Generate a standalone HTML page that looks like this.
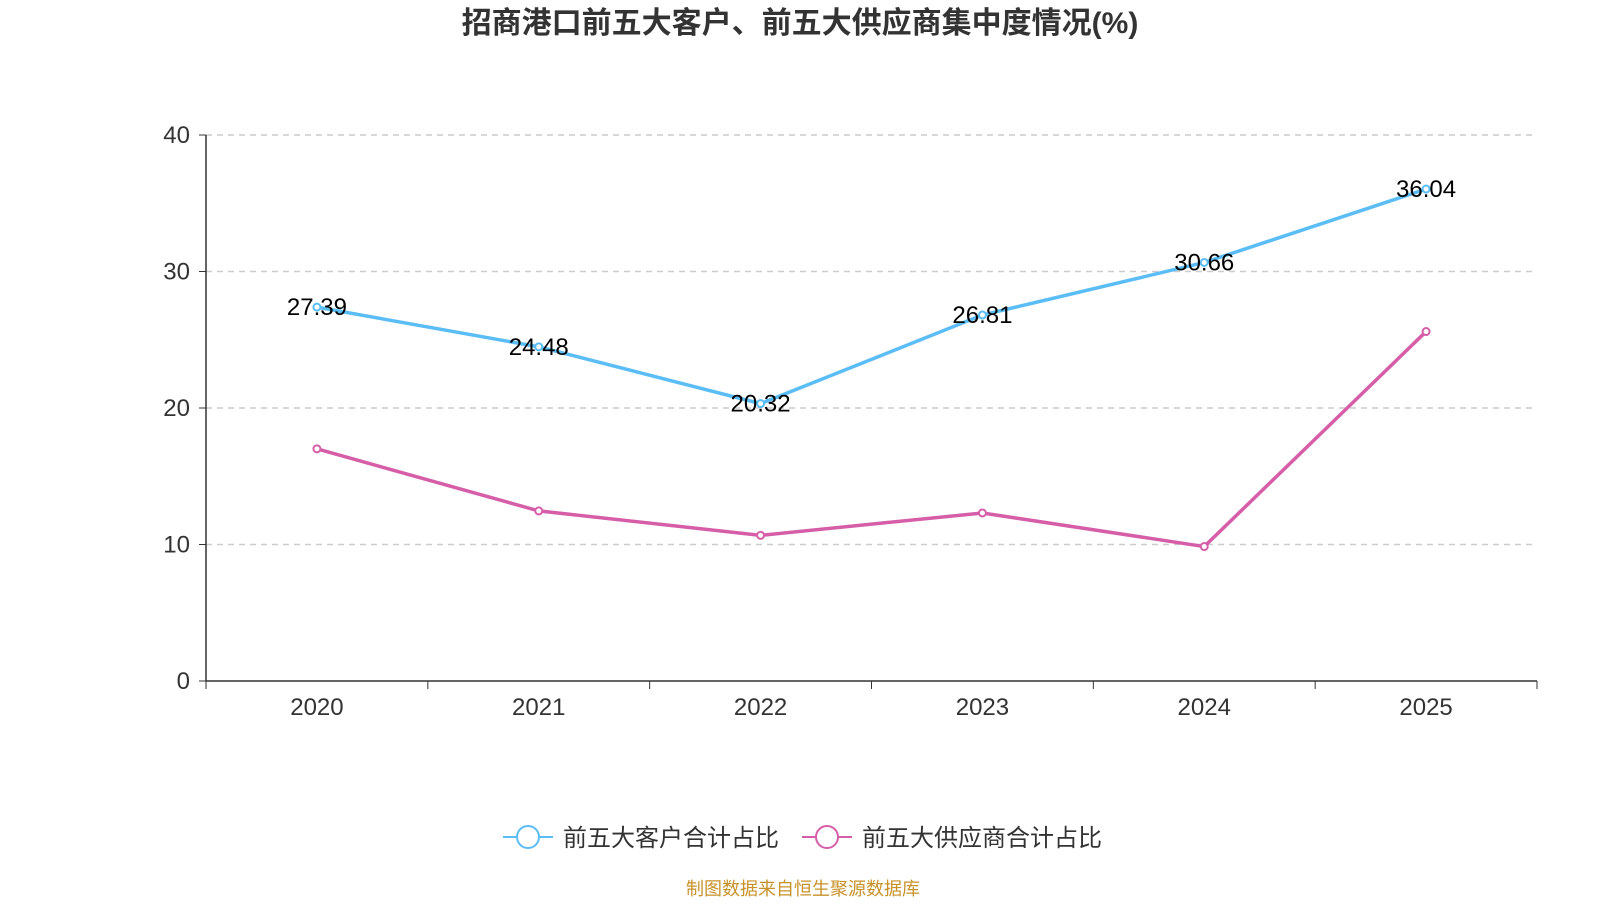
<!DOCTYPE html>
<html><head><meta charset="utf-8">
<style>
body{margin:0;background:#fff;width:1600px;height:900px;overflow:hidden;font-family:"Liberation Sans","Noto Sans CJK SC",sans-serif;}
</style></head>
<body>
<svg id="chart" width="1600" height="900" xmlns="http://www.w3.org/2000/svg" font-family="'Liberation Sans','Noto Sans CJK SC',sans-serif">
<text x="800" y="33" text-anchor="middle" font-size="30" font-weight="bold" fill="#333">招商港口前五大客户、前五大供应商集中度情况(%)</text>
<g id="grid"></g><g id="axes"></g><g id="series"></g>
<g>
<g>
<line x1="503" y1="837" x2="553" y2="837" stroke="#5bbdf5" stroke-width="2"/>
<circle cx="528" cy="837" r="11" fill="#fff" stroke="#5bbdf5" stroke-width="2"/>
<text x="563" y="846" font-size="24" fill="#333">前五大客户合计占比</text></g>
<g>
<line x1="802" y1="837" x2="852" y2="837" stroke="#d65ea8" stroke-width="2"/>
<circle cx="827" cy="837" r="11" fill="#fff" stroke="#d65ea8" stroke-width="2"/>
<text x="862" y="846" font-size="24" fill="#333">前五大供应商合计占比</text></g>
</g>
<text x="803" y="895" text-anchor="middle" font-size="18" fill="#c8922a">制图数据来自恒生聚源数据库</text>
</svg>
<script>
const categories=["2020","2021","2022","2023","2024","2025"];
const customerValues=[27.39,24.48,20.32,26.81,30.66,36.04];
const supplierValues=[17.01,12.46,10.67,12.31,9.85,25.6];
const yTicks=[0,10,20,30,40];
const NS="http://www.w3.org/2000/svg";
const L=206,R=1537,T=135,B=681,yMax=40;
const bw=(R-L)/categories.length;
const x=i=>L+bw*(i+0.5);
const y=v=>B-(v/yMax)*(B-T);
function mk(tag,attrs,parent){const e=document.createElementNS(NS,tag);for(const k in attrs)e.setAttribute(k,attrs[k]);parent.appendChild(e);return e;}
const grid=document.getElementById('grid'),axes=document.getElementById('axes'),series=document.getElementById('series');
yTicks.forEach(t=>{
 if(t>0){const g=mk('line',{x1:L,x2:R,y1:y(t),y2:y(t),stroke:'#ccc','stroke-dasharray':'6,5','stroke-width':1.5},grid);
 
 }
 mk('line',{x1:L-7,x2:L,y1:y(t),y2:y(t),stroke:'#333'},axes);
 const tx=mk('text',{x:L-16,y:y(t)+8,'text-anchor':'end','font-size':24,fill:'#333'},axes);tx.textContent=t;
 
 
});
const ya=mk('line',{x1:L,x2:L,y1:T,y2:B,stroke:'#333','stroke-width':1.5},axes);


const xa=mk('line',{x1:L,x2:R,y1:B,y2:B,stroke:'#333','stroke-width':1.5},axes);


for(let i=0;i<=categories.length;i++)mk('line',{x1:L+bw*i,x2:L+bw*i,y1:B,y2:B+8,stroke:'#333'},axes);
categories.forEach((c,i)=>{const t=mk('text',{x:x(i),y:B+34,'text-anchor':'middle','font-size':24,fill:'#333'},axes);t.textContent=c;
 
 });
function draw(vals,color,name,labels){
 const p=mk('polyline',{points:vals.map((v,i)=>x(i)+','+y(v)).join(' '),fill:'none',stroke:color,'stroke-width':3.5},series);
 
 
 vals.forEach((v,i)=>{const c=mk('circle',{cx:x(i),cy:y(v),r:3.5,fill:'#fff',stroke:color,'stroke-width':2},series);
  
  
  if(labels){const t=mk('text',{x:x(i),y:y(v)+8,'text-anchor':'middle','font-size':24,fill:'#000'},series);t.textContent=v.toFixed(2);
  
  }
 });
}
draw(supplierValues,'#d65ea8','suppliers',false);
draw(customerValues,'#5bbdf5','customers',true);
</script>
</body></html>
